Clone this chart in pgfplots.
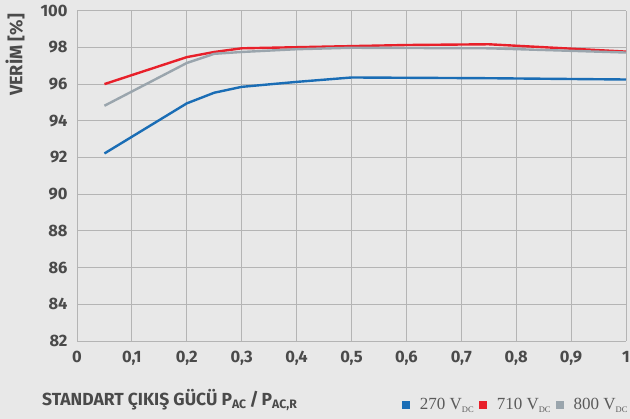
\documentclass[border=0pt]{standalone}
\usepackage{fontspec}
\setmainfont{Fira Sans}
\newfontfamily\legfont{Liberation Serif}
\usepackage{pgfplots}
\pgfplotsset{compat=1.18}
\usetikzlibrary{backgrounds}

\definecolor{bgcol}{HTML}{E8E8E8}
\definecolor{txt}{HTML}{4A4A4A}
\definecolor{legtxt}{HTML}{5A5A5A}
\definecolor{gridc}{HTML}{B4B4B4}
\definecolor{c270}{HTML}{1A6DB5}
\definecolor{c710}{HTML}{E8202A}
\definecolor{c800}{HTML}{9AA5AD}

\tikzset{gridline/.style={gridc, line width=0.9pt}}
\newcommand{\vdc}{V\raisebox{-2.5pt}{\fontsize{8.5}{9}\selectfont DC}}

\begin{document}
\begin{tikzpicture}
\begin{axis}[
    scale only axis,
    width=549pt, height=330.3pt,
    at={(77pt,78pt)}, anchor=south west,
    xmin=0, xmax=1, ymin=82, ymax=100,
    xtick={0,0.1,...,1},
    ytick={82,84,...,100},
    axis line style={draw=none},
    major tick length=0pt,
    clip=false,
    /pgf/number format/assume math mode=true,
    /pgf/number format/use comma,
    xticklabel style={font=\fontsize{16.5}{20}\selectfont\bfseries, text=txt, yshift=-7pt},
    yticklabel style={font=\fontsize{16.5}{20}\selectfont\bfseries, text=txt, xshift=-6pt},
    ylabel={VERİM [\%]},
    ylabel style={at={(rel axis cs:-0.113,0.866)}, anchor=center, font=\fontsize{18}{21}\selectfont\bfseries, text=txt},
    legend columns=3,
    legend style={at={(rel axis cs:1.003,-0.194)}, anchor=east, draw=none, fill=none,
        inner sep=0pt, font=\legfont\fontsize{17}{20}\selectfont, text=legtxt,
        nodes={inner sep=0pt},
        /tikz/every even column/.append style={column sep=5pt},
        /tikz/every odd column/.append style={column sep=10pt}},
    legend image code/.code={\fill[#1, draw=none] (0pt,-4pt) rectangle (8pt,4pt);},
]
% grid, frame included
\pgfplotsinvokeforeach{0,0.1,0.2,0.3,0.4,0.5,0.6,0.7,0.8,0.9,1}{
    \draw[gridline] (axis cs:#1,82) -- (axis cs:#1,100);
}
\pgfplotsinvokeforeach{82,84,86,88,90,92,94,96,98,100}{
    \draw[gridline] (axis cs:0,#1) -- (axis cs:1,#1);
}
\addplot[c270, line width=2.4pt] coordinates {
    (0.05,92.22) (0.2,94.95) (0.25,95.53) (0.3,95.85) (0.4,96.12)
    (0.5,96.36) (0.75,96.32) (1,96.25)
};
\addplot[c710, line width=2.4pt] coordinates {
    (0.05,96.0) (0.2,97.47) (0.25,97.75) (0.3,97.95) (0.5,98.07)
    (0.6,98.13) (0.75,98.17) (1,97.77)
};
\addplot[c800, line width=2.4pt] coordinates {
    (0.05,94.82) (0.2,97.15) (0.25,97.65) (0.3,97.75) (0.4,97.9)
    (0.5,97.98) (0.75,97.95) (1,97.72)
};
\legend{270 \vdc, 710 \vdc, 800 \vdc}
\end{axis}
\node[anchor=base west, text=txt, font=\fontsize{17.5}{21}\selectfont\bfseries, inner sep=0pt]
    at (42pt,13pt) {STANDART ÇIKIŞ GÜCÜ P\textsubscript{AC}\,/\,P\textsubscript{AC,R}};
\begin{scope}[on background layer]
\fill[bgcol] (0,0) rectangle (630pt,419pt);
\end{scope}
\pgfresetboundingbox
\useasboundingbox (0,0) rectangle (630pt,419pt);
\end{tikzpicture}
\end{document}
